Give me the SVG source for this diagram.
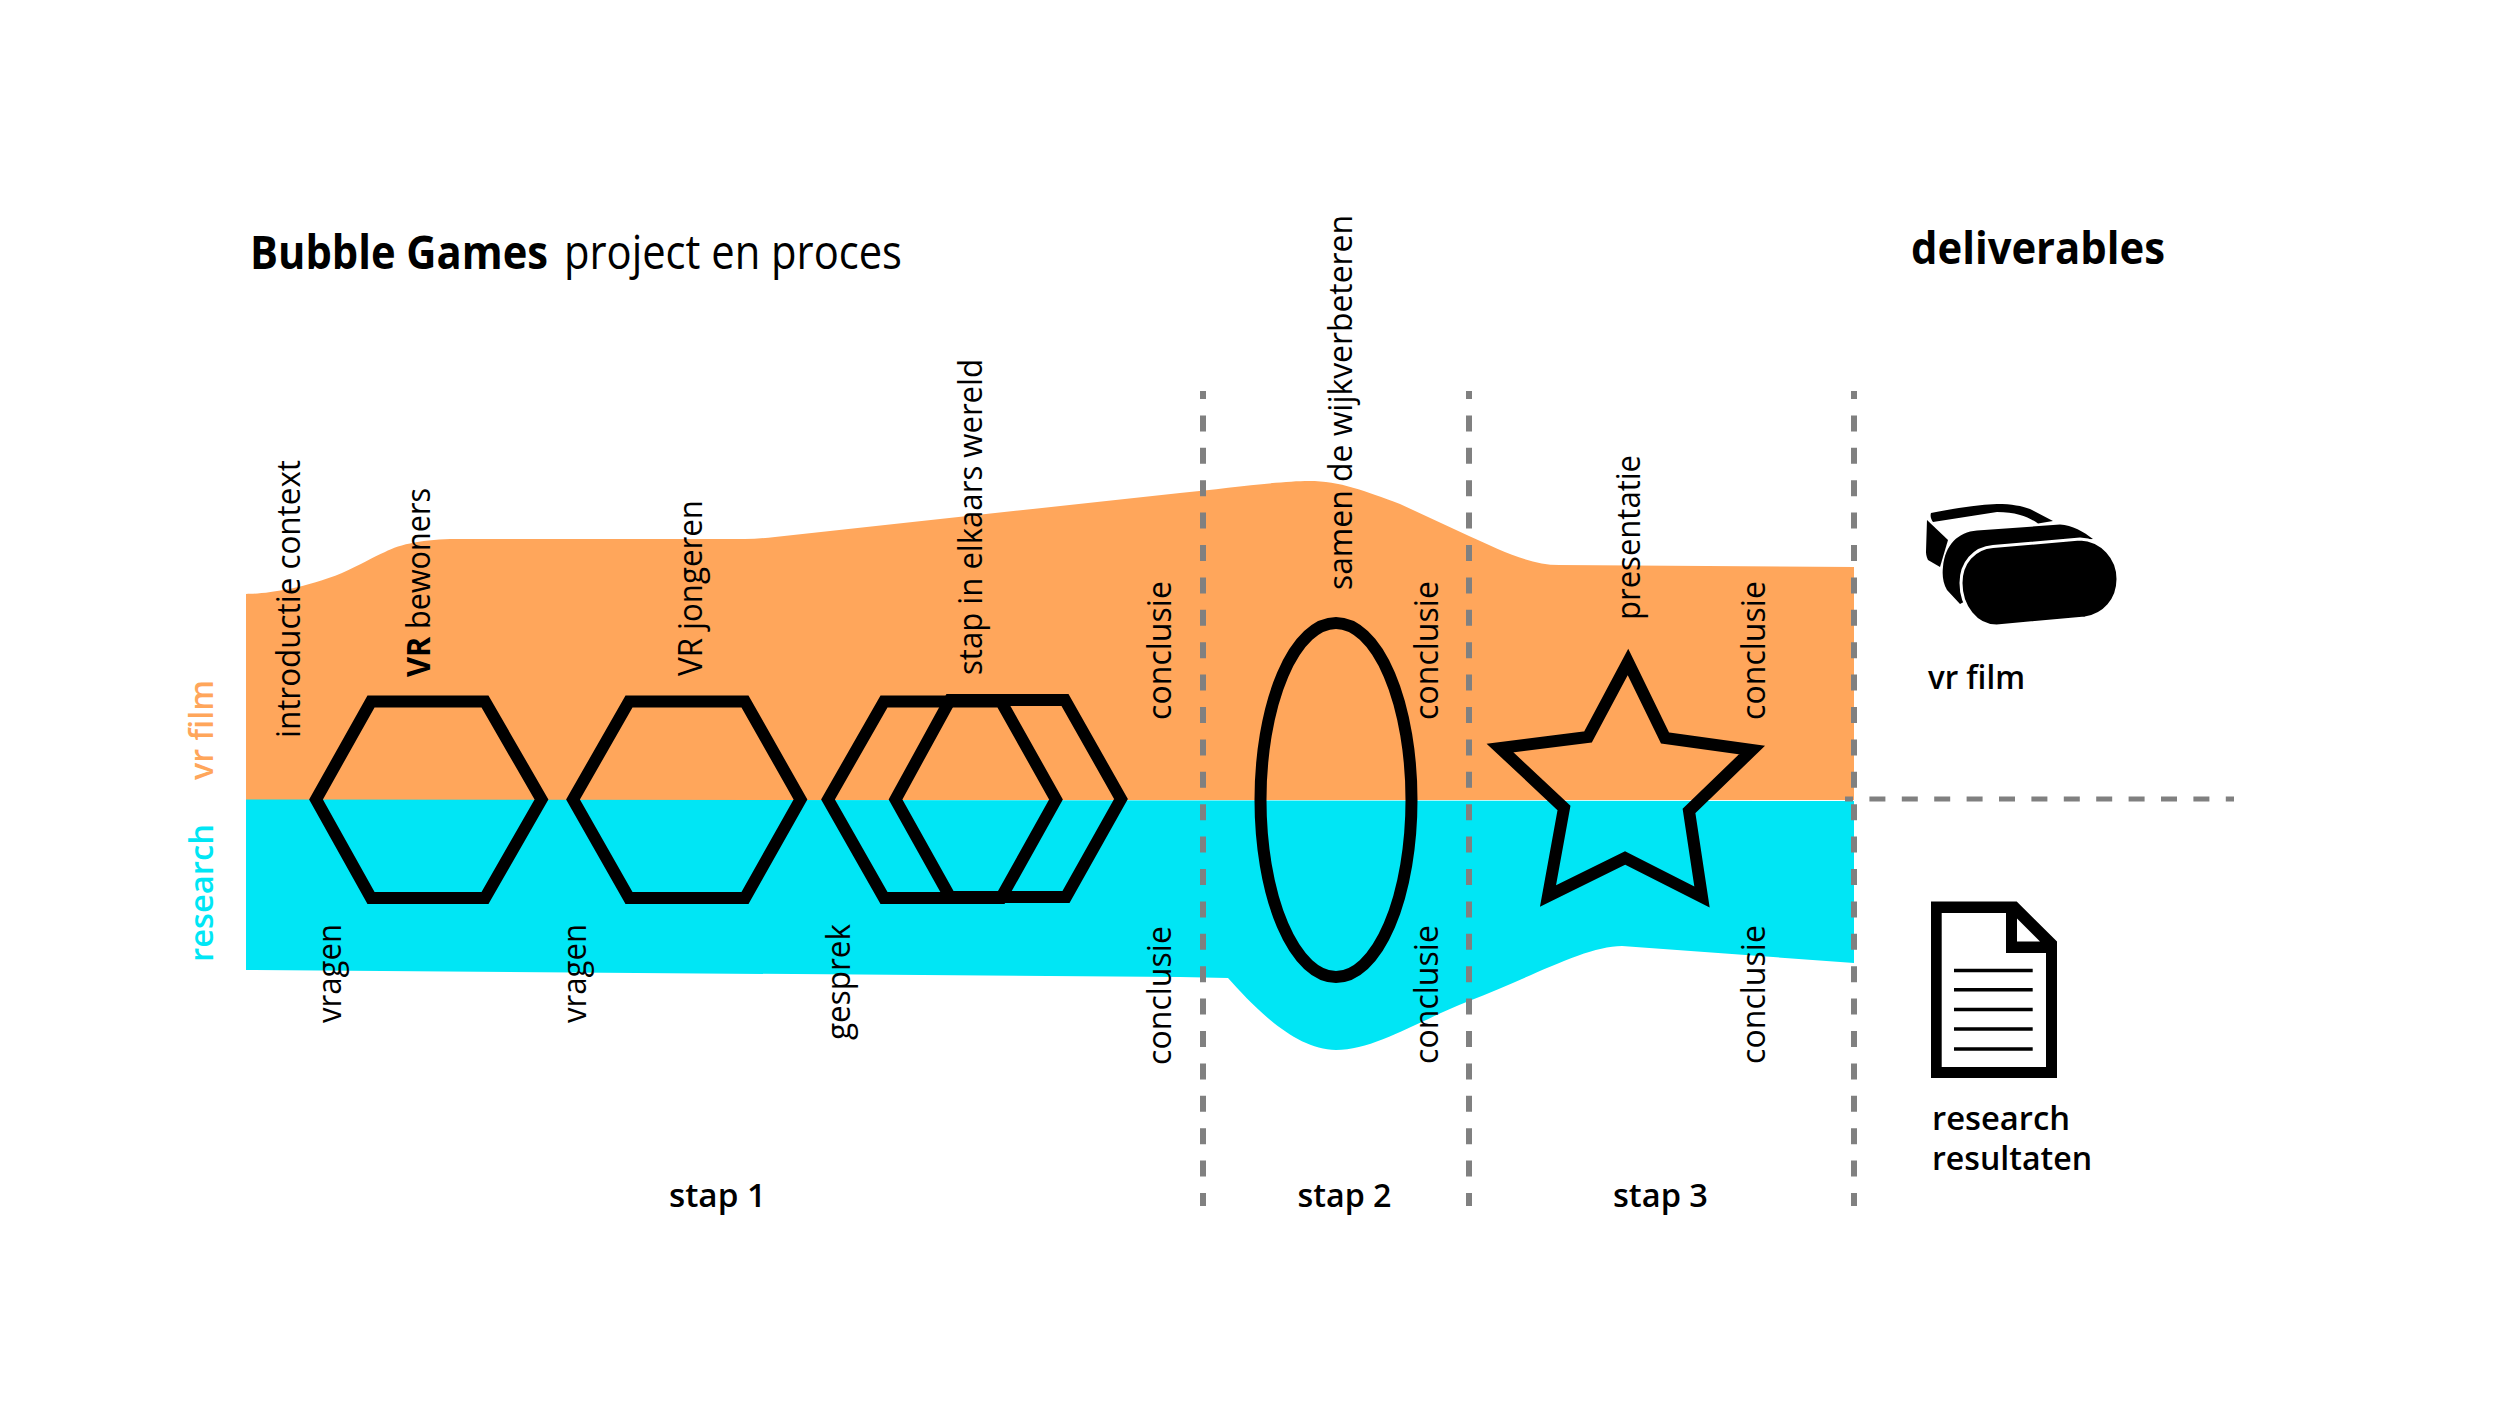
<svg xmlns="http://www.w3.org/2000/svg" width="2511" height="1412" viewBox="0 0 2511 1412">
<style>
text{font-family:"Open Sans","Noto Sans","Liberation Sans",sans-serif;fill:#000}
.l{font-size:33px}
.b{font-weight:600;font-size:33px}
.h{font-weight:700;font-size:44px}
.shape{fill:none;stroke:#000;stroke-width:12;stroke-miterlimit:10}
.dash{fill:none;stroke:#808080;stroke-dasharray:16 16.4}
</style>
<g id="bands">
<path id="band-vr" fill="#FFA65B" d="M246 594C262 594 300 590 342 573C360 565 373 557 385 552C400 544 425 539 456 539L745 539C755 539 765 538 775 537L1180 493C1230 488 1280 481 1309 481C1340 481 1365 491 1400 504L1469 536C1500 550 1530 565 1559 565L1854 567L1854 800L246 800Z"/>
<path id="band-research" fill="#00E6F5" d="M246 799.5L1854 801L1854 963L1622 946C1585 946 1530 978 1469 1001C1420 1020 1375 1050 1336 1050C1295 1050 1255 1008 1228 978L1180 977L246 970Z"/>
</g>
<g id="connectors">
<path class="dash" stroke-width="6" stroke-dashoffset="8" d="M1203 391V1206"/>
<path class="dash" stroke-width="6" stroke-dashoffset="8" d="M1469 391V1206"/>
<path class="dash" stroke-width="6" stroke-dashoffset="8" d="M1854 391V1206"/>
<path class="dash" stroke-width="5" stroke-dashoffset="8" d="M1845 799H2234"/>
</g>
<g id="hexagon-1"><path class="shape" d="M316 799.5L371 701.5H485L541.5 799.5L485 898H371Z"/></g>
<g id="hexagon-2"><path class="shape" d="M573 799.5L629 701.5H745L800.5 799.5L745 898H629Z"/></g>
<g id="hexagon-3a"><path class="shape" d="M828 799.5L884 701.5H1001L1056 799.5L1001 898H884Z"/></g>
<g id="hexagon-3b"><path class="shape" d="M895.5 799.5L950 700H1065L1121 799L1066 897H950Z"/></g>
<g id="ellipse"><ellipse class="shape" cx="1336" cy="800" rx="75.5" ry="177"/></g>
<g id="star"><path class="shape" d="M1628 662L1665 738L1752 750L1689 811L1702 897L1625 858L1548 896L1564 808L1500 748L1588 737Z"/></g>
<g id="title">
<text y="269" font-size="47"><tspan x="250" font-weight="700" textLength="298" lengthAdjust="spacingAndGlyphs">Bubble Games</tspan> <tspan x="564" textLength="338" lengthAdjust="spacingAndGlyphs">project en proces</tspan></text>
</g>
<g id="deliverables"><text class="h" x="1911" y="264" textLength="254" lengthAdjust="spacingAndGlyphs">deliverables</text></g>
<g id="rotated-labels">
<text class="l" transform="translate(300 738) rotate(-90)" textLength="278" lengthAdjust="spacingAndGlyphs">introductie context</text>
<text class="l" transform="translate(430 677) rotate(-90)" textLength="189" lengthAdjust="spacingAndGlyphs"><tspan font-weight="700">VR</tspan> bewoners</text>
<text class="l" transform="translate(702 676) rotate(-90)" textLength="176" lengthAdjust="spacingAndGlyphs">VR jongeren</text>
<text class="l" transform="translate(982 675) rotate(-90)" textLength="316" lengthAdjust="spacingAndGlyphs">stap in elkaars wereld</text>
<text class="l" transform="translate(1171 720) rotate(-90)" textLength="139" lengthAdjust="spacingAndGlyphs">conclusie</text>
<text class="l" transform="translate(1171 1065) rotate(-90)" textLength="139" lengthAdjust="spacingAndGlyphs">conclusie</text>
<text class="l" transform="translate(340.5 1023) rotate(-90)" textLength="99" lengthAdjust="spacingAndGlyphs">vragen</text>
<text class="l" transform="translate(585.5 1023) rotate(-90)" textLength="99" lengthAdjust="spacingAndGlyphs">vragen</text>
<text class="l" transform="translate(849.5 1040) rotate(-90)" textLength="116" lengthAdjust="spacingAndGlyphs">gesprek</text>
<text class="l" transform="translate(1352 590) rotate(-90)" textLength="375" lengthAdjust="spacingAndGlyphs">samen de wijkverbeteren</text>
<text class="l" transform="translate(1438 720) rotate(-90)" textLength="139" lengthAdjust="spacingAndGlyphs">conclusie</text>
<text class="l" transform="translate(1438 1064) rotate(-90)" textLength="139" lengthAdjust="spacingAndGlyphs">conclusie</text>
<text class="l" transform="translate(1640 620) rotate(-90)" textLength="165" lengthAdjust="spacingAndGlyphs">presentatie</text>
<text class="l" transform="translate(1765 720) rotate(-90)" textLength="139" lengthAdjust="spacingAndGlyphs">conclusie</text>
<text class="l" transform="translate(1765 1064) rotate(-90)" textLength="139" lengthAdjust="spacingAndGlyphs">conclusie</text>
<text class="b" style="fill:#FFA65B" transform="translate(213 780) rotate(-90)" textLength="100" lengthAdjust="spacingAndGlyphs">vr film</text>
<text class="b" style="fill:#00E6F5" transform="translate(213 962) rotate(-90)" textLength="138" lengthAdjust="spacingAndGlyphs">research</text>
</g>
<g id="steps">
<text class="b" x="669" y="1207" textLength="97" lengthAdjust="spacingAndGlyphs">stap 1</text>
<text class="b" x="1297.5" y="1207" textLength="94" lengthAdjust="spacingAndGlyphs">stap 2</text>
<text class="b" x="1613" y="1207" textLength="95" lengthAdjust="spacingAndGlyphs">stap 3</text>
</g>
<g id="vr-film">
<path d="M1927 520L1948 540L1940 567L1928 560C1926 556 1926 553 1926 551Z"/>
<path d="M1931 513C1950 509 1975 505 1997 504C2012 504 2022 506 2030 509L2053 521L2038 523.5C2030 518 2018 512 1997 512L1933 522C1931 519 1930 516 1931 513Z"/>
<path d="M1943 567C1945 545 1958 532 1977 530.5L2060 524.5C2072 525 2084 532 2093 539L2080 540L1960 604L1947 590C1943 583 1942 575 1943 567Z"/>
<path stroke="#fff" stroke-width="3" d="M1996.7 626L2085 618C2104 615 2118 600 2118 579C2118 558 2102 540 2080 539L1993 546.5C1974 548 1961 563 1961 583C1961 606 1976 626 1996.7 626Z"/>
<text class="b" x="1928" y="689" textLength="97" lengthAdjust="spacingAndGlyphs">vr film</text>
</g>
<g id="research-resultaten">
<path fill-rule="evenodd" d="M1931 901.5H2016.7L2057 941.4V1078H1931ZM1941.7 913V1067H2046V953H2006V913ZM2017 918.5V941.4H2040Z"/>
<path stroke="#000" stroke-width="3.5" d="M1954 970.5H2032.7M1954 989.8H2032.7M1954 1009.5H2032.7M1954 1029H2032.7M1954 1049H2032.7"/>
<text class="b"><tspan x="1932" y="1130" textLength="138" lengthAdjust="spacingAndGlyphs">research</tspan><tspan x="1932" y="1170" textLength="160" lengthAdjust="spacingAndGlyphs">resultaten</tspan></text>
</g>
</svg>
